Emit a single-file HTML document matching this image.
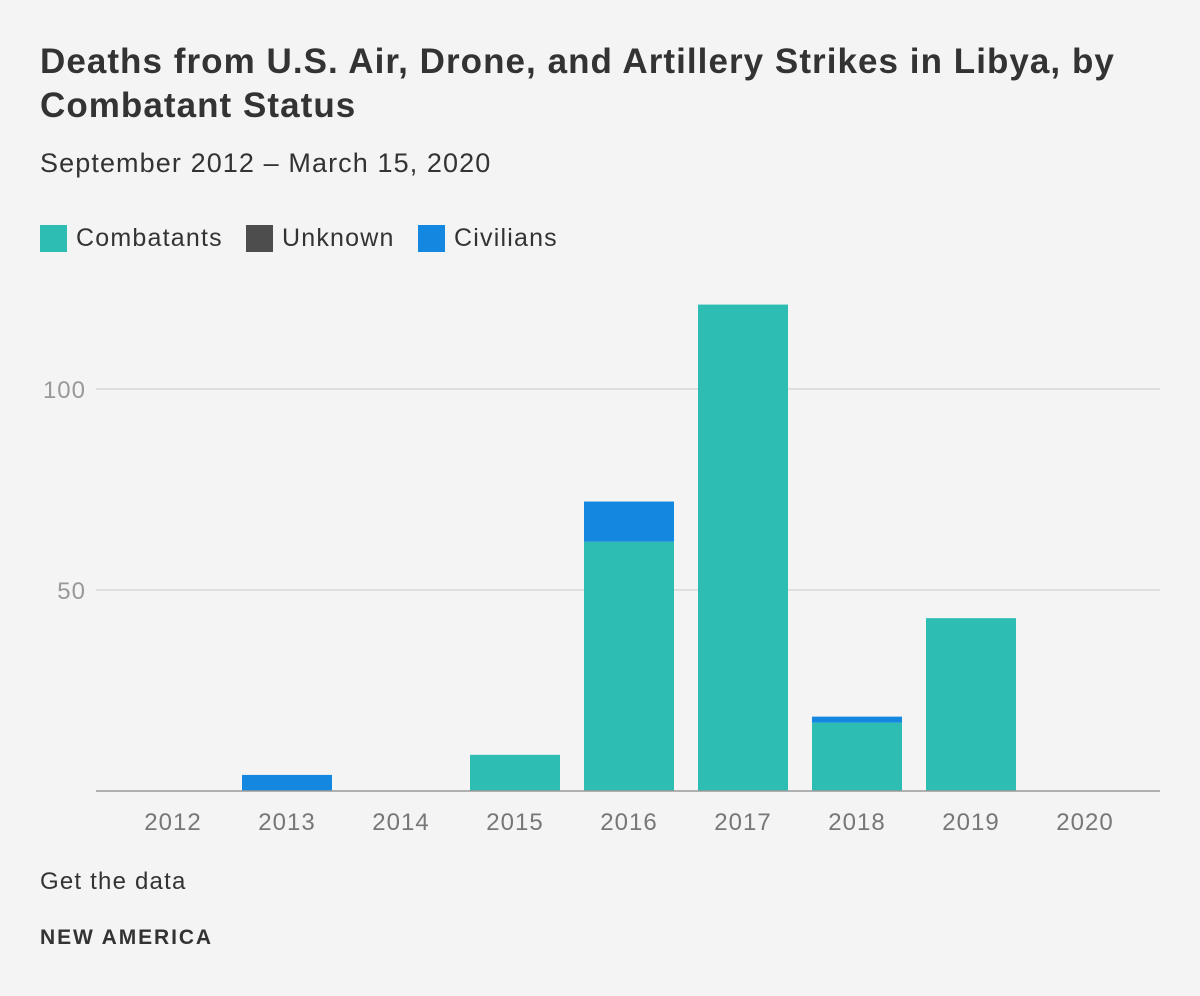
<!DOCTYPE html>
<html><head><meta charset="utf-8"><style>
body{margin:0;background:#f4f4f4;font-family:"Liberation Sans",sans-serif;color:#333;}
#wrap{position:relative;width:1200px;height:996px;}
h1{position:absolute;left:40px;top:40px;margin:0;font-size:35px;line-height:44px;font-weight:bold;color:#333;width:1150px;letter-spacing:1.05px;}
.sub{position:absolute;left:40px;top:148px;font-size:27px;color:#333;letter-spacing:1.1px;}
.leg{position:absolute;top:224px;font-size:25px;display:flex;align-items:center;letter-spacing:1.2px;}
.sw{width:27px;height:27px;margin-right:9px;display:inline-block;}
.foot{position:absolute;left:40px;top:868px;font-size:24px;letter-spacing:1.2px;}
.brand{position:absolute;left:40px;top:926px;font-size:21px;font-weight:bold;letter-spacing:1.9px;}
svg{position:absolute;left:0;top:0;}
</style></head><body>
<div id="wrap">
<h1>Deaths from U.S. Air, Drone, and Artillery Strikes in Libya, by Combatant Status</h1>
<div class="sub">September 2012 – March 15, 2020</div>
<div class="leg" style="left:40px"><span class="sw" style="background:#2ebdb3"></span>Combatants</div>
<div class="leg" style="left:246px"><span class="sw" style="background:#4d4d4d"></span>Unknown</div>
<div class="leg" style="left:418px"><span class="sw" style="background:#1488e0"></span>Civilians</div>
<svg id="chart" width="1200" height="996"></svg>
<div class="foot">Get the data</div>
<div class="brand">NEW AMERICA</div>
</div>
<script>
const categories=["2012","2013","2014","2015","2016","2017","2018","2019","2020"];
const combatants=[0,0,0,9,62,121,17,43,0];
const unknown=[0,0,0,0,0,0,0,0,0];
const civilians=[0,4,0,0,10,0,1.5,0,0];
const yTicks=[50,100];
const NS="http://www.w3.org/2000/svg";
const svg=document.getElementById('chart');
const y0=791,pxPer=4.02,x0=173,step=114,bw=90;
const yS=v=>y0-v*pxPer;
const xS=i=>x0+i*step;
function mk(t,a){const e=document.createElementNS(NS,t);for(const k in a)e.setAttribute(k,a[k]);svg.appendChild(e);return e;}
yTicks.forEach(t=>{
 const l=mk('line',{x1:96,x2:1160,y1:yS(t),y2:yS(t),stroke:'#d8d8d8','stroke-width':1.5});
 
 
 const tx=mk('text',{x:86,y:yS(t)+9,'text-anchor':'end','font-size':24,fill:'#999','font-family':'Liberation Sans, sans-serif','letter-spacing':1});
 tx.textContent=t;
 
 
});
categories.forEach((c,i)=>{
 let base=0;
 [[combatants,'#2ebdb3','combatants'],[unknown,'#4d4d4d','unknown'],[civilians,'#1488e0','civilians']].forEach(([arr,col,nm])=>{
  const v=arr[i];if(v<=0)return;
  const r=mk('rect',{x:xS(i)-bw/2,y:yS(base+v),width:bw,height:v*pxPer,fill:col});
  
  
  base+=v;
 });
 const tx=mk('text',{x:xS(i),y:830,'text-anchor':'middle','font-size':24,fill:'#777','font-family':'Liberation Sans, sans-serif','letter-spacing':1});
 tx.textContent=c;
 
 
});
const ax=mk('line',{x1:96,x2:1160,y1:y0,y2:y0,stroke:'#999','stroke-width':1.5});


</script>
</body></html>
